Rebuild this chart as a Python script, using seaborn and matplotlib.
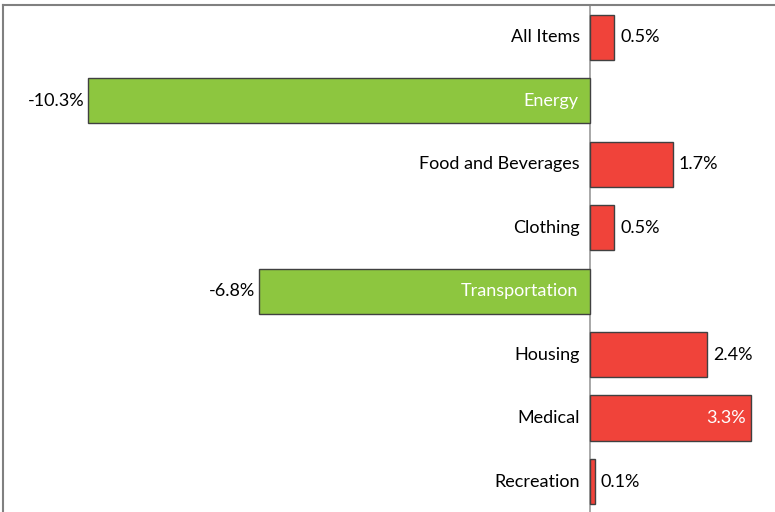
import matplotlib
matplotlib.use("Agg")
import matplotlib.pyplot as plt
import seaborn as sns
import pandas as pd

categories = ["All Items", "Energy", "Food and Beverages", "Clothing",
              "Transportation", "Housing", "Medical", "Recreation"]
changes = [0.5, -10.3, 1.7, 0.5, -6.8, 2.4, 3.3, 0.1]

df = pd.DataFrame({"category": categories, "change": changes})
df["sign"] = ["up" if v >= 0 else "down" for v in df["change"]]

sns.set_style("white")
plt.rcParams["font.family"] = ["Lato", "DejaVu Sans"]

fig = plt.figure(figsize=(7.75, 5.12), dpi=100)
ax = fig.add_axes([3 / 775, 0, 1 - 3 / 775, 1 - 5 / 512])

sns.barplot(data=df, x="change", y="category", hue="sign", orient="h",
            palette={"up": "#F0433A", "down": "#8DC63F"}, dodge=False,
            saturation=1, width=0.71, edgecolor="#404040", linewidth=1,
            legend=False, ax=ax)

ax.set_xlim(-12.05, 3.80)
ax.set_ylim(7.48, -0.505)
ax.axvline(0, color="#999999", lw=1.2, zorder=0.5)
ax.set_xticks([])
ax.set_yticks([])
ax.set_xlabel("")
ax.set_ylabel("")
for side in ["right", "bottom"]:
    ax.spines[side].set_visible(False)
for side in ["left", "top"]:
    ax.spines[side].set_color("#808080")
    ax.spines[side].set_linewidth(1.5)

fs = 13
px = (3.80 + 12.05) / (775 - 3)  # data units per pixel
for i, (cat, v) in enumerate(zip(categories, changes)):
    if v >= 0:
        ax.text(-10 * px, i, cat, ha="right", va="center", fontsize=fs, color="black")
        if v > 3:
            ax.text(v - 5 * px, i, f"{v:.1f}%", ha="right", va="center", fontsize=fs, color="white")
        else:
            ax.text(v + 6 * px, i, f"{v:.1f}%", ha="left", va="center", fontsize=fs, color="black")
    else:
        ax.text(-12 * px, i, cat, ha="right", va="center", fontsize=fs, color="white")
        ax.text(v - 4 * px, i, f"{v:.1f}%", ha="right", va="center", fontsize=fs, color="black")

fig.savefig("out.png", dpi=100)
